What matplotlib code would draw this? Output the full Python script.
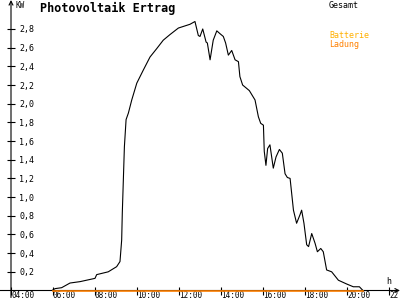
import numpy as np
import matplotlib
matplotlib.use('Agg')
import matplotlib.pyplot as plt

# Gesamt-Ertrag (Uhrzeit in h, Leistung in kW)
zeit = [5.95, 6.1, 6.41, 6.81, 7.29, 8.0, 8.08, 8.63, 9.03, 9.19, 9.27, 9.30, 9.40,
        9.48, 9.59, 9.75, 9.99, 10.30, 10.62, 10.94, 11.25, 11.57, 11.97, 12.52,
        12.76, 12.92, 13.0, 13.13, 13.29, 13.35, 13.48, 13.53, 13.63, 13.80, 13.95,
        14.11, 14.22, 14.35, 14.51, 14.67, 14.83, 14.90, 15.03, 15.35, 15.62, 15.78,
        15.89, 16.02, 16.06, 16.14, 16.22, 16.33, 16.49, 16.62, 16.78, 16.92, 17.05,
        17.16, 17.29, 17.45, 17.60, 17.76, 17.84, 17.95, 18.08, 18.17, 18.32, 18.48,
        18.59, 18.75, 18.87, 19.03, 19.27, 19.59, 19.98, 20.30, 20.59, 20.76]
gesamt = [0.0, 0.02, 0.03, 0.08, 0.095, 0.13, 0.17, 0.20, 0.255, 0.31, 0.54, 0.83, 1.54,
          1.83, 1.90, 2.04, 2.22, 2.36, 2.50, 2.59, 2.68, 2.74, 2.81, 2.85,
          2.88, 2.73, 2.72, 2.80, 2.66, 2.65, 2.47, 2.54, 2.68, 2.78, 2.75,
          2.72, 2.65, 2.52, 2.57, 2.47, 2.45, 2.29, 2.20, 2.14, 2.04, 1.86,
          1.79, 1.77, 1.49, 1.34, 1.52, 1.56, 1.31, 1.43, 1.51, 1.47, 1.25,
          1.21, 1.20, 0.86, 0.72, 0.81, 0.86, 0.72, 0.49, 0.47, 0.61, 0.505,
          0.415, 0.45, 0.415, 0.22, 0.20, 0.11, 0.07, 0.04, 0.04, 0.0]

# Batterie-Ladung (ganztags 0)
zeit_batt = [5.98, 20.78]
ladung = [0.0, 0.0]

y_ticks = [0.2, 0.4, 0.6, 0.8, 1.0, 1.2, 1.4, 1.6, 1.8, 2.0, 2.2, 2.4, 2.6, 2.8]
x_ticks = [4, 6, 8, 10, 12, 14, 16, 18, 20, 22]

mono = 'DejaVu Sans Mono'

fig = plt.figure(figsize=(4, 3), dpi=100)
ax = fig.add_axes([11/400, 9.5/300, 389/400, 290.5/300])
ax.set_xlim(4, 4 + 389/21)
ax.set_ylim(0, 290.5/93.4)
for s in ax.spines.values():
    s.set_visible(False)

# Achsen mit Pfeilen
ax.annotate('', xy=(1, 0), xytext=(-11/389, 0), xycoords='axes fraction',
            arrowprops=dict(arrowstyle='->', color='black', lw=0.8,
                            shrinkA=0, shrinkB=0, mutation_scale=7), zorder=1)
ax.annotate('', xy=(0, 1), xytext=(0, -7/290), xycoords='axes fraction',
            arrowprops=dict(arrowstyle='->', color='black', lw=0.8,
                            shrinkA=0, shrinkB=0, mutation_scale=7), zorder=1)

ax.plot(zeit, gesamt, color='black', lw=0.8, zorder=3)
ax.plot(zeit_batt, ladung, color='#ff8000', lw=1.2, zorder=10, clip_on=False)

ax.set_yticks(y_ticks)
ax.set_yticklabels([('%.1f' % v).replace('.', ',') for v in y_ticks],
                   family=mono, fontsize=6)
ax.set_xticks(x_ticks)
ax.set_xticklabels(['%02d:00' % h for h in x_ticks], family=mono, fontsize=5.5,
                   ha='left')
ax.tick_params(axis='y', direction='inout', length=6, width=0.8, pad=-9)
ax.tick_params(axis='x', direction='inout', length=6, width=0.8, pad=-2.5)
for lab in ax.get_yticklabels():
    lab.set_horizontalalignment('left')

fig.text(40/400, 1 - 8/300, 'Photovoltaik Ertrag', family=mono, fontsize=8.5,
         fontweight='bold', va='center', ha='left')
fig.text(15/400, 1 - 5/300, 'KW', family=mono, fontsize=5.5, va='center', ha='left')
fig.text(329/400, 1 - 5/300, 'Gesamt', family=mono, fontsize=6, va='center', ha='left')
fig.text(329/400, 1 - 36/300, 'Batterie', family=mono, fontsize=6, va='center',
         ha='left', color='#ffb000')
fig.text(329/400, 1 - 44/300, 'Ladung', family=mono, fontsize=6, va='center',
         ha='left', color='#ff8000')
fig.text(386/400, 1 - 281/300, 'h', family=mono, fontsize=6, va='center', ha='left')

fig.savefig('out.png', dpi=100)
